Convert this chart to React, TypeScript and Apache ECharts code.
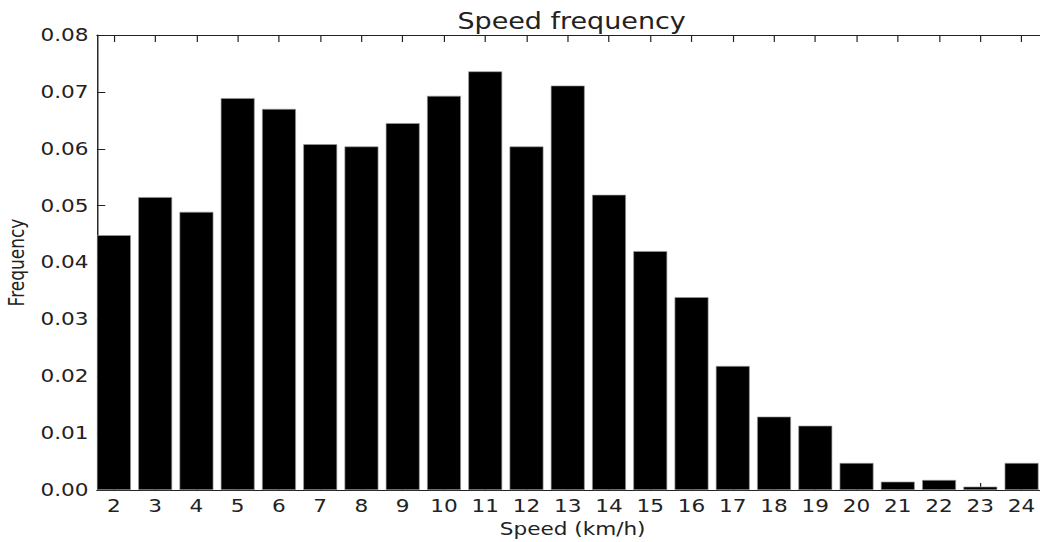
import React, { useEffect, useRef } from "react";
import * as echarts from "echarts";

const speeds = [2, 3, 4, 5, 6, 7, 8, 9, 10, 11, 12, 13, 14, 15, 16, 17, 18, 19, 20, 21, 22, 23, 24];
const frequency = [
  0.0448, 0.0515, 0.0489, 0.0689, 0.067, 0.0608, 0.0604, 0.0645, 0.0693, 0.0736, 0.0604, 0.0711,
  0.0519, 0.042, 0.0339, 0.0218, 0.0129, 0.0113, 0.00475, 0.00146, 0.00176, 0.00059, 0.00475,
];
const yTicks = [0, 0.01, 0.02, 0.03, 0.04, 0.05, 0.06, 0.07, 0.08];

const BASE_W = 867;
const SCALE_X = 1040 / BASE_W;
const FONT = "DejaVu Sans";
const INK = "#222";
const X_MIN = 1.588;
const X_MAX = 24.65;

export default function App() {
  const ref = useRef<HTMLDivElement>(null);
  useEffect(() => {
    if (!ref.current) return;
    const chart = echarts.init(ref.current, null, { renderer: "svg" });
    const tickCommon = { show: true, inside: true, length: 7, lineStyle: { color: INK, width: 1 } };
    chart.setOption({
      animation: false,
      backgroundColor: "#fff",
      title: {
        text: "Speed frequency",
        left: 471.5,
        textAlign: "center",
        top: 5,
        textStyle: { fontFamily: FONT, fontSize: 22.5, fontWeight: "normal", color: INK },
      },
      grid: { left: 80.8, top: 35, bottom: 52, right: -7, containLabel: false, outerBoundsMode: "none" },
      xAxis: [
        {
          type: "value",
          position: "bottom",
          min: X_MIN,
          max: X_MAX,
          name: "Speed (km/h)",
          nameLocation: "middle",
          nameGap: 30,
          nameTextStyle: { fontFamily: FONT, fontSize: 18, color: INK },
          axisLine: { show: true, onZero: false, lineStyle: { color: INK, width: 1.2 } },
          axisTick: { ...tickCommon, customValues: speeds },
          axisLabel: {
            customValues: speeds,
            fontFamily: FONT,
            fontSize: 18,
            color: INK,
            margin: 7,
            formatter: (v: number) => String(Math.round(v)),
          },
          splitLine: { show: false },
        },
        {
          type: "value",
          position: "top",
          min: X_MIN,
          max: X_MAX,
          axisLine: { show: true, onZero: false, lineStyle: { color: INK, width: 1.2 } },
          axisTick: { ...tickCommon, customValues: speeds },
          axisLabel: { show: false },
          splitLine: { show: false },
        },
      ],
      yAxis: [
        {
          type: "value",
          position: "left",
          min: 0,
          max: 0.08,
          interval: 0.01,
          name: "Frequency",
          nameLocation: "middle",
          nameGap: 55,
          nameTextStyle: { fontFamily: FONT, fontSize: 17, color: INK },
          axisLine: { show: true, lineStyle: { color: INK, width: 1.2 } },
          axisTick: { ...tickCommon },
          axisLabel: {
            fontFamily: FONT,
            fontSize: 18,
            color: INK,
            margin: 7,
            customValues: yTicks,
            formatter: (v: number) => v.toFixed(2),
          },
          splitLine: { show: false },
        },
        {
          type: "value",
          position: "right",
          min: 0,
          max: 0.08,
          interval: 0.01,
          axisLine: { show: true, lineStyle: { color: INK, width: 1.2 } },
          axisTick: { ...tickCommon },
          axisLabel: { show: false },
          splitLine: { show: false },
        },
      ],
      series: [
        {
          type: "bar",
          xAxisIndex: 0,
          yAxisIndex: 0,
          barWidth: 28.3,
          data: speeds.map((s, i) => [s, frequency[i]]),
          itemStyle: { color: "#000", borderColor: "#9a9a9a", borderWidth: 0.6 },
          silent: true,
        },
      ],
    });
    return () => chart.dispose();
  }, []);
  return (
    <div
      ref={ref}
      style={{
        position: "fixed",
        left: 0,
        top: 0,
        width: BASE_W + "px",
        height: "542px",
        transform: `scaleX(${SCALE_X})`,
        transformOrigin: "0 0",
      }}
    />
  );
}
